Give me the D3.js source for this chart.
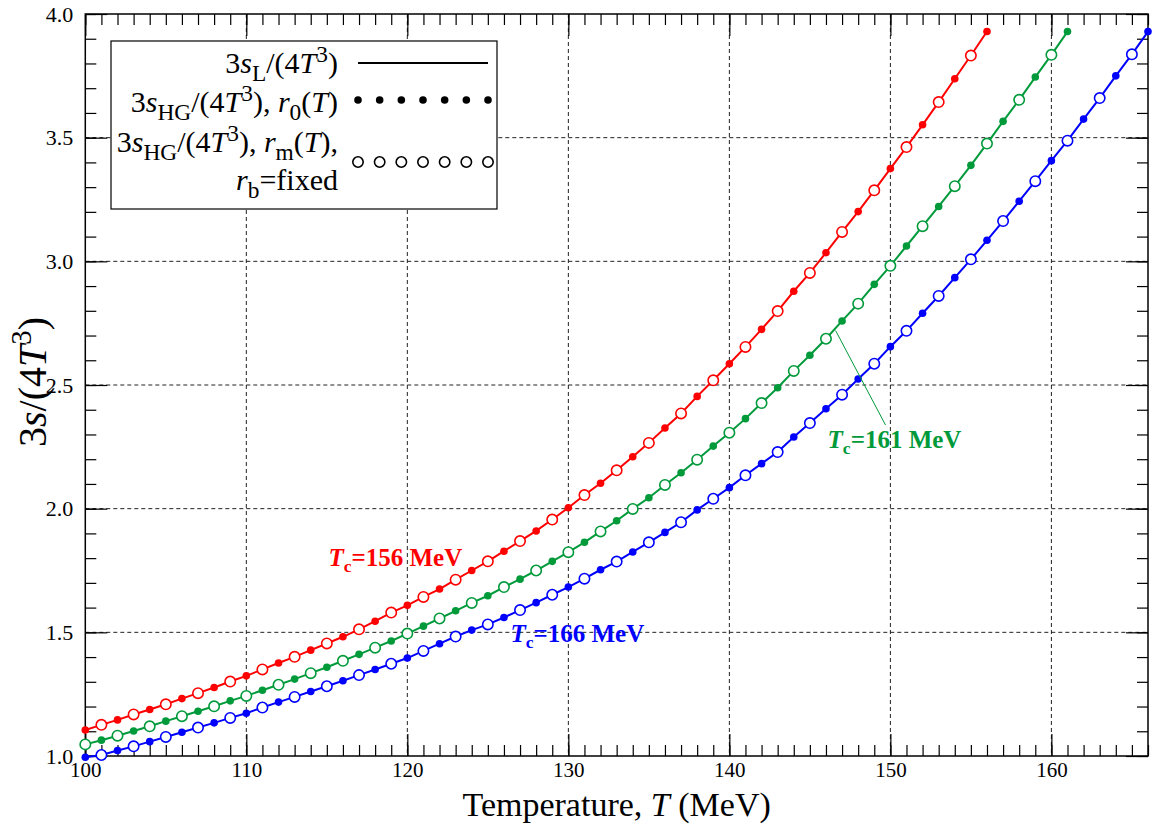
<!DOCTYPE html>
<html><head><meta charset="utf-8">
<script src="https://cdn.jsdelivr.net/npm/d3@7"></script>
<style>body{margin:0;background:#fff}</style>
</head><body><svg id="c" width="1159" height="830"></svg>
<script>
// ---- data ----
const tempsRed = d3.range(100, 157);   // Tc = 156 MeV
const valsRed = [1.105,1.126,1.146,1.168,1.188,1.209,1.232,1.254,1.277,1.301,
  1.324,1.350,1.376,1.401,1.428,1.455,1.482,1.512,1.545,1.580,
  1.609,1.643,1.675,1.713,1.750,1.787,1.828,1.869,1.910,1.956,
  2.004,2.055,2.103,2.155,2.210,2.266,2.326,2.385,2.454,2.519,
  2.586,2.654,2.725,2.799,2.879,2.953,3.035,3.119,3.201,3.287,
  3.375,3.462,3.552,3.644,3.738,3.832,3.929];
const tempsGreen = d3.range(100, 162); // Tc = 161 MeV
const valsGreen = [1.047,1.064,1.082,1.101,1.120,1.141,1.161,1.181,1.201,1.223,
  1.243,1.266,1.288,1.311,1.335,1.359,1.385,1.411,1.438,1.465,
  1.495,1.525,1.556,1.587,1.619,1.648,1.683,1.715,1.750,1.787,
  1.824,1.864,1.908,1.951,1.999,2.044,2.096,2.145,2.198,2.253,
  2.307,2.364,2.427,2.489,2.557,2.620,2.687,2.759,2.829,2.907,
  2.982,3.062,3.142,3.222,3.304,3.388,3.476,3.566,3.653,3.745,
  3.835,3.929];
const tempsBlue = d3.range(100, 167);  // Tc = 166 MeV
const valsBlue = [0.995,1.004,1.022,1.039,1.058,1.077,1.096,1.115,1.134,1.154,
  1.173,1.196,1.218,1.239,1.261,1.282,1.304,1.327,1.350,1.373,
  1.396,1.425,1.454,1.483,1.509,1.532,1.560,1.590,1.620,1.652,
  1.683,1.717,1.753,1.786,1.825,1.864,1.904,1.945,1.995,2.040,
  2.085,2.135,2.182,2.229,2.290,2.346,2.404,2.461,2.524,2.586,
  2.655,2.719,2.790,2.860,2.934,3.008,3.085,3.163,3.243,3.324,
  3.407,3.488,3.575,3.660,3.750,3.837,3.929];
const xMajorTicks = [100,110,120,130,140,150,160];
const yMajorTicks = [1.0,1.5,2.0,2.5,3.0,3.5,4.0];
const xMinorTicks = d3.range(100, 167);
const yMinorTicks = d3.range(10, 41).map(d => d / 10);

// ---- layout ----
const FONT = "'Liberation Serif','Times New Roman',serif";
const svg = d3.select('#c');
const x = d3.scaleLinear().domain([100,166]).range([85.3,1148]);
const y = d3.scaleLinear().domain([1,4]).range([756,14]);
const x0=x.range()[0], x1=x.range()[1], yT=y.range()[1], yB=y.range()[0];

svg.append('rect').attr('width',1159).attr('height',830).attr('fill','#fff');

// grid
const grid = svg.append('g').attr('stroke','#222').attr('stroke-width',1).attr('stroke-dasharray','4,3');
grid.selectAll('.vg').data(xMajorTicks.filter(d=>d>100&&d<166)).join('line')
  .attr('x1',d=>x(d)).attr('x2',d=>x(d)).attr('y1',yT).attr('y2',yB);
grid.selectAll('.hg').data(yMajorTicks.filter(d=>d>1&&d<4)).join('line')
  .attr('y1',d=>y(d)).attr('y2',d=>y(d)).attr('x1',x0).attr('x2',x1);

// axes
function styleAxis(fs){ return g => { g.select('.domain').remove(); g.selectAll('line').attr('stroke','#000').attr('stroke-width',1.2);
  g.selectAll('text').attr('font-family',FONT).attr('font-size',fs).attr('fill','#000'); }; }
svg.append('g').attr('transform',`translate(0,${yB})`)
  .call(d3.axisBottom(x).tickValues(xMinorTicks).tickSize(-11).tickSizeOuter(0).tickFormat('')).call(styleAxis(21));
svg.append('g').attr('transform',`translate(0,${yB})`)
  .call(d3.axisBottom(x).tickValues(xMajorTicks).tickSize(-22).tickSizeOuter(0).tickPadding(6).tickFormat(d3.format('d'))).call(styleAxis(21));
svg.append('g').attr('transform',`translate(0,${yT})`)
  .call(d3.axisTop(x).tickValues(xMinorTicks).tickSize(-11).tickSizeOuter(0).tickFormat('')).call(styleAxis(21));
svg.append('g').attr('transform',`translate(0,${yT})`)
  .call(d3.axisTop(x).tickValues(xMajorTicks).tickSize(-22).tickSizeOuter(0).tickFormat('')).call(styleAxis(21));
svg.append('g').attr('transform',`translate(${x0},0)`)
  .call(d3.axisLeft(y).tickValues(yMinorTicks).tickSize(-11).tickSizeOuter(0).tickFormat('')).call(styleAxis(22));
svg.append('g').attr('transform',`translate(${x0},0)`)
  .call(d3.axisLeft(y).tickValues(yMajorTicks).tickSize(-22).tickSizeOuter(0).tickPadding(12).tickFormat(d3.format('.1f'))).call(styleAxis(22));
svg.append('g').attr('transform',`translate(${x1},0)`)
  .call(d3.axisRight(y).tickValues(yMinorTicks).tickSize(-11).tickSizeOuter(0).tickFormat('')).call(styleAxis(22));
svg.append('g').attr('transform',`translate(${x1},0)`)
  .call(d3.axisRight(y).tickValues(yMajorTicks).tickSize(-22).tickSizeOuter(0).tickFormat('')).call(styleAxis(22));
svg.append('rect').attr('x',x0).attr('y',yT).attr('width',x1-x0).attr('height',yB-yT)
  .attr('fill','none').attr('stroke','#000').attr('stroke-width',1.5);

// rich text helper
function rich(t, parts, size, k){
  k = k || 0.7;
  let cur = 0;
  parts.forEach(p => {
    const target = p.sub ? size*0.25 : p.sup ? -size*0.38 : 0;
    const ts = t.append('tspan').text(p.t).attr('dy', target-cur);
    cur = target;
    if (p.i) ts.attr('font-style','italic');
    if (p.sub || p.sup) ts.attr('font-size', size*k);
  });
  return t;
}

// series
const series = [
  {T: tempsRed, v: valsRed, color:'#ff0000', filledParity:0},
  {T: tempsGreen, v: valsGreen, color:'#009a3a', filledParity:1},
  {T: tempsBlue, v: valsBlue, color:'#0000ff', filledParity:0}
];
const line = d3.line().x(d=>x(d[0])).y(d=>y(d[1]));
series.forEach(s => {
  const pts = s.T.map((t,i)=>[t, s.v[i]]);
  svg.append('path').datum(pts).attr('d',line).attr('fill','none')
    .attr('stroke',s.color).attr('stroke-width',2);
  const g = svg.append('g');
  g.selectAll('circle.f').data(pts.filter(p=>p[0]%2===s.filledParity)).join('circle')
    .attr('cx',p=>x(p[0])).attr('cy',p=>y(p[1])).attr('r',3.8).attr('fill',s.color);
  g.selectAll('circle.o').data(pts.filter(p=>p[0]%2!==s.filledParity)).join('circle')
    .attr('cx',p=>x(p[0])).attr('cy',p=>y(p[1])).attr('r',5.2)
    .attr('fill','#fff').attr('stroke',s.color).attr('stroke-width',1.6);
});

// Tc labels
function tcLabel(T, v, txt, color){
  const t = svg.append('text').attr('x',x(T)).attr('y',y(v)).attr('font-family',FONT)
    .attr('font-size',25).attr('font-weight','bold').attr('fill',color);
  rich(t, [{t:'T',i:1},{t:'c',sub:1},{t:txt}], 25);
}
tcLabel(115.1, 1.768, '=156 MeV', '#ff0000');
tcLabel(126.4, 1.462, '=166 MeV', '#0000ff');
tcLabel(146.1, 2.246, '=161 MeV', '#009a3a');
svg.append('line').attr('x1',x(146.6)).attr('y1',y(2.72)).attr('x2',x(149.7)).attr('y2',y(2.338))
  .attr('stroke','#009a3a').attr('stroke-width',1);

// legend
const lg = svg.append('g');
lg.append('rect').attr('x',111).attr('y',41).attr('width',386).attr('height',168)
  .attr('fill','#fff').attr('stroke','#000').attr('stroke-width',1.2);
const LS = 30;
const legRows = [
  {y:73, parts:[{t:'3'},{t:'s',i:1},{t:'L',sub:1},{t:'/(4'},{t:'T',i:1},{t:'3',sup:1},{t:')'}]},
  {y:112, parts:[{t:'3'},{t:'s',i:1},{t:'HG',sub:1},{t:'/(4'},{t:'T',i:1},{t:'3',sup:1},{t:'), '},{t:'r',i:1},{t:'0',sub:1},{t:'('},{t:'T',i:1},{t:')'}]},
  {y:152, parts:[{t:'3'},{t:'s',i:1},{t:'HG',sub:1},{t:'/(4'},{t:'T',i:1},{t:'3',sup:1},{t:'), '},{t:'r',i:1},{t:'m',sub:1},{t:'('},{t:'T',i:1},{t:'),'}]},
  {y:190, parts:[{t:'r',i:1},{t:'b',sub:1},{t:'=fixed'}]}
];
legRows.forEach(r => {
  const t = lg.append('text').attr('x',338).attr('y',r.y).attr('text-anchor','end')
    .attr('font-family',FONT).attr('font-size',LS).attr('fill','#000');
  rich(t, r.parts, LS, 0.78);
});
lg.append('line').attr('x1',358).attr('x2',488).attr('y1',63).attr('y2',63).attr('stroke','#000').attr('stroke-width',2);
const lx = d3.range(7).map(i => 358 + i*130/6);
lg.selectAll('circle.ld').data(lx).join('circle').attr('cx',d=>d).attr('cy',100).attr('r',3.8).attr('fill','#000');
lg.selectAll('circle.lo').data(lx).join('circle').attr('cx',d=>d).attr('cy',162).attr('r',5.2)
  .attr('fill','#fff').attr('stroke','#000').attr('stroke-width',1.6);

// axis titles
const xt = svg.append('text').attr('x',(x0+x1)/2).attr('y',816).attr('text-anchor','middle')
  .attr('font-family',FONT).attr('font-size',34).attr('fill','#000');
rich(xt, [{t:'Temperature, '},{t:'T',i:1},{t:' (MeV)'}], 34, 0.75);
const yt = svg.append('text').attr('transform',`translate(46,382) rotate(-90)`).attr('text-anchor','middle')
  .attr('font-family',FONT).attr('font-size',40).attr('fill','#000');
rich(yt, [{t:'3'},{t:'s',i:1},{t:'/(4'},{t:'T',i:1},{t:'3',sup:1},{t:')'}], 40, 0.72);
</script></body></html>
